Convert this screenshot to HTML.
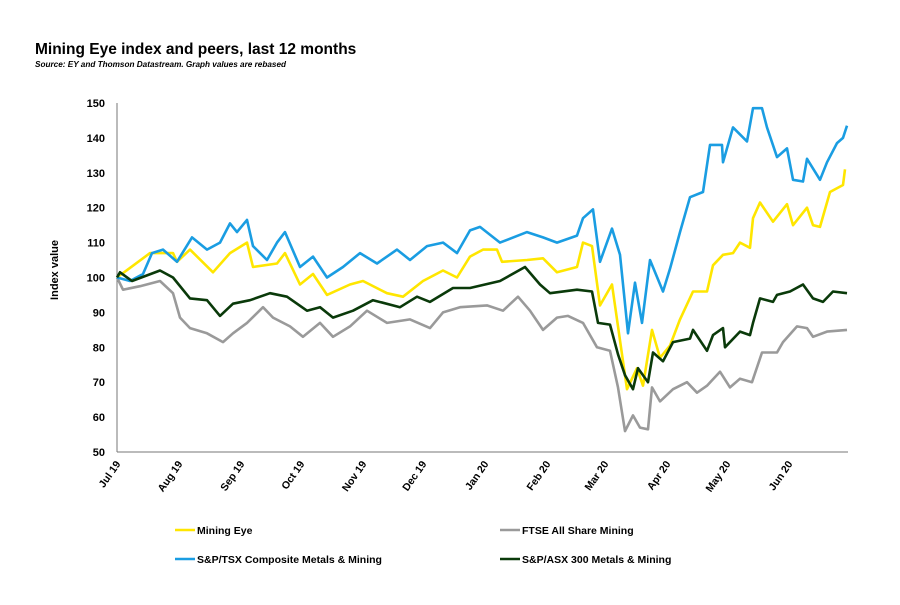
<!DOCTYPE html>
<html><head><meta charset="utf-8"><style>
body{margin:0;background:#fff;width:900px;height:600px;overflow:hidden;font-family:"Liberation Sans",Arial,sans-serif}
</style></head><body>
<svg id="chart" width="900" height="600">
<text x="35" y="54" font-size="15.5" font-weight="bold" fill="#000">Mining Eye index and peers, last 12 months</text>
<text x="35" y="67" font-size="8.2" font-weight="bold" font-style="italic" fill="#000">Source: EY and Thomson Datastream. Graph values are rebased</text>
<text transform="translate(58,270) rotate(-90)" text-anchor="middle" font-size="11" font-weight="bold">Index value</text>
<g id="axes"></g><g id="series"></g><g id="legend"></g>
</svg>
<script>
const yTicks=[50,60,70,80,90,100,110,120,130,140,150];
const monthLabels=["Jul 19","Aug 19","Sep 19","Oct 19","Nov 19","Dec 19","Jan 20","Feb 20","Mar 20","Apr 20","May 20","Jun 20"];
const monthDays=[0,31,62,92,123,153,184,215,244,275,305,336];
const miningEyeDays=[0,16.5,28,30,36.5,48,56.5,65,68,80,84,91.5,98,105,116.5,123,135,143,153,163,170,176.5,183,190,192.5,205,213,220,230,233,237.5,241.5,247.5,255,260,263,267.5,271.5,276.5,281.5,288,295,298,303,308,311.5,316.5,318,321.5,328,335,338,345,348,351.5,356.5,363,364];
const miningEyeValues=[100,107,107,104.5,108,101.5,107,110,103,104,107,98,101,95,98,99,95.5,94.5,99,102,100,106,108,108,104.5,105,105.5,101.5,103,110,109,92,98,68,74,69,85,77,80.5,88,96,96,103.5,106.5,107,110,108.5,117,121.5,116,121,115,120,115,114.5,124.5,126.5,131];
const tsxDays=[0,6.5,13,17.5,23,30,37.5,45,51.5,56.5,60,65,68,75,80,84,91.5,98,105,113,121.5,130,140,146.5,155,163,170,176.5,181.5,191.5,205,213,220,230,233,238,241.5,247.5,251.5,255.5,259,262.5,266.5,273,276.5,281.5,286.5,293,296.5,302.5,303,308,315,318,322.5,325,330,335,338,343,345,351.5,355,360,363,365];
const tsxValues=[100,99,101,107,108,104.5,111.5,108,110,115.5,113,116.5,109,105,110,113,103,106,100,103,107,104,108,105,109,110,107,113.5,114.5,110,113,111.5,110,112,117,119.5,104.5,114,106.5,84,98.5,87,105,96,102.5,113,123,124.5,138,138,133,143,139,148.5,148.5,143,134.5,137,128,127.5,134,128,133,138.5,140,143.5];
const asxDays=[0,1.5,7.5,21.5,28,36.5,45,51.5,58,66.5,76.5,85,95,101.5,108,118,128,141.5,150,156.5,168,176.5,191.5,204,211.5,216.5,230,237.5,240.5,246.5,250.5,254,258,260.5,265.5,268,273,278,286.5,288,295,298,303,304,311.5,316.5,318,321.5,328,330,336.5,343,348,353,358,365];
const asxValues=[100,101.5,99,102,100,94,93.5,89,92.5,93.5,95.5,94.5,90.5,91.5,88.5,90.5,93.5,91.5,94.5,93,97,97,99,103,98,95.5,96.5,96,87,86.5,78,72,68,74,70,78.5,76,81.5,82.5,85,79,83.5,85.5,80,84.5,83.5,87,94,93,95,96,98,94,93,96,95.5];
const ftseDays=[0,3,11.5,21.5,28,31.5,36.5,45,53,58,65,73,78,86.5,93,101.5,108,116.5,125,135,146.5,156.5,163,171.5,185,193,200.5,206.5,213,220,225.5,233,240,246.5,250.5,254,258,261.5,265.5,267.5,271.5,278,285,290,295,301.5,306.5,311.5,317.5,322.5,330,333,340,345,348,355,365];
const ftseValues=[100,96.5,97.5,99,95.5,88.5,85.5,84,81.5,84,87,91.5,88.5,86,83,87,83,86,90.5,87,88,85.5,90,91.5,92,90.5,94.5,90.5,85,88.5,89,87,80,79,68.5,56,60.5,57,56.5,68.5,64.5,68,70,67,69,73,68.5,71,70,78.5,78.5,81.5,86,85.5,83,84.5,85];

const NS="http://www.w3.org/2000/svg";
const X0=117,X1=847,Y0=452,Y1=103;
function xs(d){return X0+d/365*(X1-X0);}
function ys(v){return Y0-(v-50)/100*(Y0-Y1);}
function mk(tag,attrs,parent){const e=document.createElementNS(NS,tag);for(const k in attrs)e.setAttribute(k,attrs[k]);parent.appendChild(e);return e;}
const axes=document.getElementById('axes');
let yl=mk('line',{x1:X0,y1:Y1,x2:X0,y2:Y0,stroke:'#777','stroke-width':1},axes);


let xl=mk('line',{x1:X0,y1:Y0,x2:848,y2:Y0,stroke:'#777','stroke-width':1},axes);


yTicks.forEach(v=>{
 const t=mk('text',{x:105,y:ys(v)+4,'text-anchor':'end','font-size':11,'font-weight':'bold'},axes);
 t.textContent=v;
 
 
});
monthLabels.forEach((m,i)=>{
 const x=xs(monthDays[i]);
 const t=mk('text',{transform:`translate(${x+4},${Y0+12}) rotate(-55)`,'text-anchor':'end','font-size':10.5,'font-weight':'bold'},axes);
 t.textContent=m;
 
 
});
const ser=document.getElementById('series');
function draw(days,vals,color,name){
 const n=Math.min(days.length,vals.length);let d='';
 for(let i=0;i<n;i++)d+=(i?'L':'M')+xs(days[i]).toFixed(1)+','+ys(vals[i]).toFixed(1);
 const p=mk('path',{d:d,fill:'none',stroke:color,'stroke-width':2.6,'stroke-linejoin':'round'},ser);
 
 
}
draw(ftseDays,ftseValues,'#9a9a9a','ftse-line');
draw(miningEyeDays,miningEyeValues,'#ffe600','mining-eye-line');
draw(tsxDays,tsxValues,'#1a9de2','tsx-line');
draw(asxDays,asxValues,'#0a3a0a','asx-line');
const leg=document.getElementById('legend');
[['Mining Eye','#ffe600',175,530],['FTSE All Share Mining','#9a9a9a',500,530],['S&P/TSX Composite Metals & Mining','#1a9de2',175,559],['S&P/ASX 300 Metals & Mining','#0a3a0a',500,559]].forEach(e=>{
 const g=mk('g',{},leg);
 
 
 mk('line',{x1:e[2],y1:e[3],x2:e[2]+20,y2:e[3],stroke:e[1],'stroke-width':2.6},g);
 const t=mk('text',{x:e[2]+22,y:e[3]+4,'font-size':10.5,'font-weight':'bold'},g);
 t.textContent=e[0];
});
</script>
</body></html>
